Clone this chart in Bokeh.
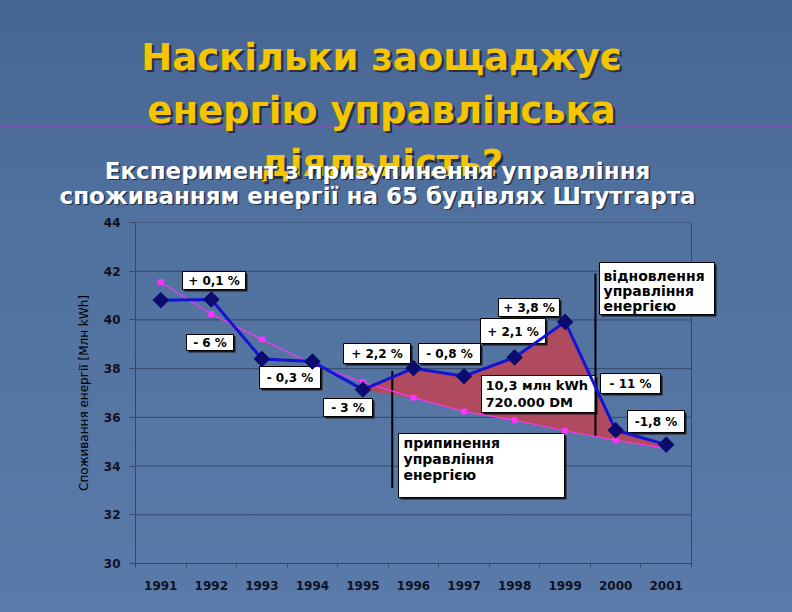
import math
from bokeh.plotting import figure
from bokeh.layouts import column
from bokeh.models import BoxAnnotation, Label, FixedTicker, Range1d, Span
from bokeh.embed import file_html
from bokeh.resources import INLINE

# ---------------- data ----------------
years = [1991, 1992, 1993, 1994, 1995, 1996, 1997, 1998, 1999, 2000, 2001]
actual = [40.81, 40.84, 38.40, 38.29, 37.14, 38.02, 37.69, 38.46, 39.92, 35.47, 34.88]
trend = [41.55, 40.24, 39.20, 38.18, 37.45, 36.81, 36.24, 35.88, 35.45, 35.06, 34.73]
y_ticks = [30, 32, 34, 36, 38, 40, 42, 44]
change_labels = ["+ 0,1 %", "- 6 %", "- 0,3 %", "+ 2,2 %", "- 3 %", "- 0,8 %",
                 "+ 2,1 %", "+ 3,8 %", "- 11 %", "-1,8 %"]
event_x = [1995.58, 1999.6]
event_y0 = [33.1, 35.24]
event_y1 = [37.9, 41.9]
title_lines = ["Наскільки заощаджує", "енергію управлінська", "діяльність?"]
subtitle_lines = ["Експеримент з призупинення управління",
                  "споживанням енергії на 65 будівлях Штутгарта"]
stop_lines = ["припинення", "управління", "енергією"]
restore_lines = ["відновлення", "управління", "енергією"]
saving_lines = ["10,3 млн kWh", "720.000 DM"]
y_label = "Споживання енергії [Млн kWh]"

GRID = "#34486b"
FONT = "DejaVu Sans"

# ---------------- heading figure (page pixel coordinates) ----------------
TOP_H = 214
t = figure(width=792, height=TOP_H, x_range=Range1d(0, 792), y_range=Range1d(TOP_H, 0),
           output_backend="svg", toolbar_location=None, title=None,
           x_axis_location=None, y_axis_location=None, min_border=0)
t.frame_align = False
t.grid.visible = False
t.outline_line_color = None
t.background_fill_color = None
t.border_fill_color = None
t.styles = {"background": "linear-gradient(#476593, #50709d)"}

t.add_layout(Span(location=126.7, dimension="width", line_color="#9a40c8", line_width=1.6))

for i, s in enumerate(title_lines):
    by = 56.7 + 53.2 * i
    for off, col in ((2.5, "#26324a"), (0, "#f5c500")):
        t.add_layout(Label(x=381 + off, y=by + off, text=s, text_align="center",
                           text_baseline="alphabetic", text_font=FONT,
                           text_font_style="bold", text_font_size="37px", text_color=col))

for i, s in enumerate(subtitle_lines):
    by = 170 + 25 * i
    for off, col in ((1.5, "#26324a"), (0, "#ffffff")):
        t.add_layout(Label(x=377 + off, y=by + off, text=s, text_align="center",
                           text_baseline="alphabetic", text_font=FONT,
                           text_font_style="bold", text_font_size="23px", text_color=col))

# ---------------- chart figure ----------------
H = 612 - TOP_H
ML, MT, MB = 135, 8, 49
PX0, PX1 = 135, 691              # page x of 1990.5 and 2001.5
PY0, PY1 = TOP_H + MT, 612 - MB  # page y of 44 and 30
X0, X1 = 1990.5, 2001.5
Y0, Y1 = 30, 44


def dx(px):
    return X0 + (px - PX0) * (X1 - X0) / (PX1 - PX0)


def dy(py):
    return Y1 - (py - PY0) * (Y1 - Y0) / (PY1 - PY0)


p = figure(width=792, height=H, x_range=Range1d(X0, dx(792)), y_range=Range1d(Y0, Y1),
           output_backend="svg", toolbar_location=None, title=None,
           min_border_left=ML, min_border_right=0, min_border_top=MT, min_border_bottom=MB)
p.frame_align = False
p.background_fill_color = None
p.border_fill_color = None
p.styles = {"background": "linear-gradient(#50709d, #5a7aa9)"}
p.outline_line_color = None
p.grid.visible = False

# grid limited to the category area
n = len(y_ticks)
p.segment(x0=[X0] * n, y0=y_ticks, x1=[X1] * n, y1=y_ticks, line_color=GRID, line_width=1,
          level="underlay")
p.segment(x0=[X1], y0=[Y0], x1=[X1], y1=[Y1], line_color=GRID, line_width=1, level="underlay")

p.yaxis.ticker = FixedTicker(ticks=y_ticks)
p.xaxis.ticker = FixedTicker(ticks=years, minor_ticks=[y - 0.5 for y in years] + [years[-1] + 0.5])
p.xaxis.major_label_overrides = {y: str(y) for y in years}
p.xaxis.bounds = (X0, X1)

for ax in (p.xaxis[0], p.yaxis[0]):
    ax.axis_line_color = GRID
    ax.major_label_text_font = FONT
    ax.major_label_text_font_style = "bold"
    ax.major_label_text_font_size = "12px"
    ax.major_label_text_color = "#111122"
    ax.minor_tick_line_color = GRID
    ax.major_tick_line_color = GRID

p.xaxis.major_tick_out = 0
p.xaxis.major_tick_in = 0
p.xaxis.minor_tick_out = 4
p.xaxis.minor_tick_in = 0
p.xaxis.major_label_standoff = 13

p.yaxis.major_tick_out = 6
p.yaxis.major_tick_in = 0
p.yaxis.minor_tick_line_color = None
p.yaxis.major_label_standoff = 9
p.yaxis.axis_label = y_label
p.yaxis.axis_label_text_font = FONT
p.yaxis.axis_label_text_font_style = "normal"
p.yaxis.axis_label_text_font_size = "12px"
p.yaxis.axis_label_text_color = "#000000"
p.yaxis.axis_label_standoff = 10

# ---------------- savings area ----------------
k = years.index(1995)
patch_x = years[k:] + years[:k:-1]
patch_y = actual[k:] + trend[:k:-1]
p.patch(patch_x, patch_y, fill_color="#b4485c", fill_alpha=0.95, line_color="#b4485c",
        line_width=1)


# ---------------- boxes ----------------
def box(l, r, tp, b):
    p.add_layout(BoxAnnotation(left=dx(l + 2), right=dx(r + 2), top=dy(tp + 2), bottom=dy(b + 2),
                               fill_color="#1a1a1a", fill_alpha=1, line_alpha=0))
    p.add_layout(BoxAnnotation(left=dx(l), right=dx(r), top=dy(tp), bottom=dy(b),
                               fill_color="white", fill_alpha=1, line_color="black",
                               line_alpha=1, line_width=1))


def text(px, py, s, align="center", size="12px"):
    p.add_layout(Label(x=dx(px), y=dy(py), text=s, text_align=align, text_baseline="middle",
                       text_font=FONT, text_font_style="bold", text_font_size=size,
                       text_color="black"))


pct_boxes = [
    (182, 245, 271, 289), (186, 233, 334, 350), (259, 320, 366, 388), (343, 410, 343, 363),
    (323, 372, 398, 416), (418, 480, 343, 363), (480, 545, 318, 343), (498, 559, 298, 316),
    (600, 660, 373, 393), (627, 684, 410, 432),
]
for (l, r, tp, b), s in zip(pct_boxes, change_labels):
    box(l, r, tp, b)
    text((l + r) / 2, (tp + b) / 2 + 0.5, s)

box(599, 714, 262, 314)
for i, s in enumerate(restore_lines):
    text(603, 275 + 15 * i, s, align="left", size="14px")

box(398, 564, 433, 497)
for i, s in enumerate(stop_lines):
    text(403, 442 + 16 * i, s, align="left", size="14px")

box(481, 595, 375, 412)
for i, s in enumerate(saving_lines):
    text(485, 385 + 17 * i, s, align="left", size="13px")

# ---------------- lines ----------------
p.segment(x0=event_x, y0=event_y0, x1=event_x, y1=event_y1, line_color="black",
          line_width=2, level="overlay")
p.line(years, trend, line_color="#ff33ff", line_width=1.2, level="overlay")
p.scatter(years, trend, marker="square", size=5, fill_color="#ff33ff", line_color="#ff33ff",
          level="overlay")
p.line(years, actual, line_color="#1414d2", line_width=3, level="overlay")
p.scatter(years, actual, marker="square", size=11, angle=math.pi / 4, fill_color="#0c0c70",
          line_color="#0c0c70", level="overlay")

open("out.html", "w").write(file_html(column(t, p, spacing=0), INLINE))
